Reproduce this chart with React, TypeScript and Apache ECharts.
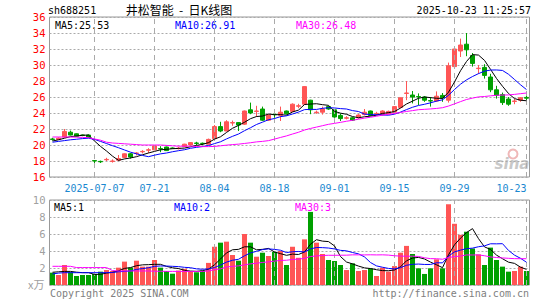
import React, { useEffect, useRef } from 'react';
import * as echarts from 'echarts';

const dates = [
  '2025-06-26','2025-06-27','2025-06-30',
  '2025-07-01','2025-07-02','2025-07-03','2025-07-04','2025-07-07','2025-07-08','2025-07-09','2025-07-10','2025-07-11',
  '2025-07-14','2025-07-15','2025-07-16','2025-07-17','2025-07-18','2025-07-21','2025-07-22','2025-07-23','2025-07-24','2025-07-25',
  '2025-07-28','2025-07-29','2025-07-30','2025-07-31',
  '2025-08-01','2025-08-04','2025-08-05','2025-08-06','2025-08-07','2025-08-08','2025-08-11','2025-08-12','2025-08-13','2025-08-14',
  '2025-08-15','2025-08-18','2025-08-19','2025-08-20','2025-08-21','2025-08-22','2025-08-25','2025-08-26','2025-08-27','2025-08-28','2025-08-29',
  '2025-09-01','2025-09-02','2025-09-03','2025-09-04','2025-09-05','2025-09-08','2025-09-09','2025-09-10','2025-09-11','2025-09-12',
  '2025-09-15','2025-09-16','2025-09-17','2025-09-18','2025-09-19','2025-09-22','2025-09-23','2025-09-24','2025-09-25','2025-09-26',
  '2025-09-29','2025-09-30',
  '2025-10-09','2025-10-10','2025-10-13','2025-10-14','2025-10-15','2025-10-16','2025-10-17','2025-10-20','2025-10-21','2025-10-22','2025-10-23'
];

const openPrices = [
  20.75, 20.7, 21.0, 21.6, 21.4, 21.25, 21.25, 18.05, 17.95, 18.15,
  17.95, 18.1, 18.45, 18.9, 18.95, 19.15, 19.35, 19.4, 19.55, 19.75,
  19.62, 19.55, 19.8, 20.0, 20.25, 20.22, 20.1, 20.8, 22.3, 21.75,
  22.75, 22.8, 22.6, 24.4, 24.2, 24.5, 23.1, 23.85, 23.7, 24.25,
  24.2, 24.85, 25.1, 25.6, 24.05, 24.1, 24.8, 24.4, 23.7, 23.35,
  23.4, 23.4, 23.8, 24.25, 23.9, 23.8, 23.9, 24.1, 24.7, 26.45,
  26.25, 26.05, 26.0, 25.55, 25.5, 26.2, 25.6, 29.8, 31.75, 32.6,
  31.2, 29.55, 29.7, 28.5, 26.9, 26.3, 25.75, 25.45, 25.6, 25.95
];
const closePrices = [
  20.7, 20.85, 21.7, 21.25, 21.1, 21.2, 20.95, 18.0, 17.9, 18.2,
  18.0, 18.3, 18.9, 18.5, 19.0, 19.2, 19.4, 19.9, 19.5, 19.3,
  19.58, 19.6, 20.1, 20.3, 20.2, 20.18, 20.7, 22.3, 21.75, 22.9,
  22.8, 22.5, 24.25, 24.0, 24.25, 23.1, 23.75, 23.8, 24.1, 23.9,
  25.1, 24.9, 27.3, 24.4, 24.1, 24.5, 24.5, 23.5, 23.3, 23.4,
  23.1, 23.75, 24.1, 23.7, 23.95, 24.25, 24.2, 24.8, 25.9, 26.5,
  26.0, 26.0, 25.6, 25.5, 26.1, 25.9, 29.9, 32.0, 32.5, 31.9,
  30.2, 29.6, 28.7, 26.9, 26.2, 25.3, 25.1, 25.5, 25.9, 25.85
];
const lowPrices = [
  20.55, 20.65, 20.9, 21.2, 21.05, 21.1, 20.9, 17.6, 17.75, 18.0,
  17.8, 18.0, 18.35, 18.3, 18.7, 18.95, 19.0, 19.35, 19.1, 19.25,
  19.5, 19.45, 19.75, 19.95, 19.95, 20.0, 20.05, 20.75, 21.6, 21.7,
  22.4, 21.75, 22.5, 23.85, 23.5, 23.0, 23.0, 23.4, 23.0, 23.8,
  24.1, 24.6, 25.0, 23.85, 23.9, 23.8, 24.4, 23.4, 23.0, 23.2,
  23.0, 23.3, 23.7, 23.6, 23.75, 23.7, 23.85, 24.0, 24.6, 25.6,
  25.2, 25.0, 25.4, 24.8, 25.4, 25.4, 25.3, 29.5, 31.0, 31.1,
  29.8, 28.9, 28.3, 26.6, 25.8, 25.0, 24.9, 25.1, 25.4, 25.4
];
const highPrices = [
  20.9, 20.95, 22.0, 21.8, 21.45, 21.3, 21.3, 18.1, 18.05, 18.4,
  18.2, 18.75, 18.95, 19.0, 19.1, 19.35, 19.6, 20.0, 19.85, 19.8,
  19.7, 19.75, 20.15, 20.35, 20.4, 20.3, 20.8, 22.5, 22.9, 23.1,
  23.05, 22.85, 24.3, 25.3, 24.9, 24.8, 23.85, 24.0, 24.8, 24.3,
  25.2, 25.15, 27.35, 25.65, 24.3, 24.8, 24.9, 24.45, 23.95, 23.6,
  23.5, 23.85, 24.5, 24.3, 24.15, 24.35, 24.3, 24.85, 25.95, 28.0,
  26.75, 26.45, 26.1, 26.0, 26.7, 26.5, 30.3, 32.2, 33.3, 34.0,
  31.5, 30.0, 30.1, 28.9, 27.4, 26.55, 26.0, 25.75, 26.0, 26.3
];
// volume, in 10k lots
const volumes = [
  1.45, 1.18, 2.35, 1.5, 1.06, 1.18, 1.18, 1.3, 1.57, 1.76,
  1.65, 2.04, 2.75, 2.04, 2.86, 2.16, 2.16, 2.94, 2.04, 1.65,
  1.33, 1.7, 1.9, 1.6, 1.5, 1.7, 2.6, 4.5, 4.98, 5.1,
  3.53, 2.86, 6.0, 4.98, 3.33, 3.8, 3.41, 3.9, 4.0, 2.35,
  4.5, 3.2, 5.37, 8.6, 4.98, 3.65, 2.94, 2.82, 2.35, 1.76,
  2.55, 1.65, 1.76, 1.96, 1.06, 2.04, 1.57, 2.23, 3.8, 4.6,
  3.65, 1.96, 1.3, 1.96, 3.02, 1.96, 9.5, 7.2, 5.9, 6.27,
  4.3, 3.6, 2.35, 4.4, 2.94, 2.16, 1.57, 1.65, 2.16, 1.65
];

// moving-average values before a full window exists
const ma5Head = [20.5, 20.65, 20.85, 21.05];
const ma10Head = [20.35, 20.45, 20.55, 20.65, 20.72, 20.8, 20.85, 20.7, 20.45];
const ma30Head = [21.0, 21.0, 21.0, 21.0, 20.98, 20.95, 20.92, 20.75, 20.6, 20.35,
  20.25, 20.2, 20.15, 20.1, 20.05, 20.0, 20.0, 20.0, 20.0, 19.95,
  19.9, 19.85, 19.85, 19.85, 19.82, 19.8, 19.8, 19.82, 19.9];
const vma5Head = [1.5, 1.55, 1.6, 1.6];
const vma10Head = [1.3, 1.4, 1.45, 1.45, 1.45, 1.45, 1.45, 1.45, 1.45];
const vma30Head = [2.2, 2.2, 2.2, 2.2, 2.05, 2.05, 2.05, 2.05, 2.05, 2.05,
  1.7, 1.65, 1.65, 1.65, 1.65, 1.65, 1.65, 1.62, 1.62, 1.6,
  1.6, 1.6, 1.6, 1.6, 1.6, 1.6, 1.65, 1.8, 1.9];

const priceTicks = { min: 16, max: 36, interval: 2 };
const volTicks = { min: 0, max: 10, interval: 2 };
const labelIndices = [7, 17, 27, 37, 47, 57, 67, 79];

const legendPrice = ['MA5:25.53', 'MA10:26.91', 'MA30:26.48'];
const legendVol = ['MA5:1', 'MA10:2', 'MA30:3'];

const UP = '#ff5555';
const DOWN = '#00a000';
const MONO = 'DejaVu Sans Mono, Liberation Mono, monospace';

function movingAvg(vals: number[], n: number, head: number[]) {
  return vals.map((_, i) => {
    if (i < n - 1) return head[i];
    let s = 0;
    for (let k = i - n + 1; k <= i; k++) s += vals[k];
    return +(s / n).toFixed(3);
  });
}

export default function App() {
  const ref = useRef<HTMLDivElement>(null);
  useEffect(() => {
    if (!ref.current) return;
    const chart = echarts.init(ref.current, undefined, { renderer: 'svg' });
    const candles = dates.map((_, i) => [openPrices[i], closePrices[i], lowPrices[i], highPrices[i]]);
    const volData = volumes.map((v, i) => ({
      value: v,
      itemStyle: { color: closePrices[i] >= openPrices[i] ? UP : DOWN },
    }));
    const vLine = {
      symbol: 'none',
      silent: true,
      label: { show: false },
      lineStyle: { color: '#aaa', type: [5, 4], width: 1 },
      data: labelIndices.map((i) => ({ xAxis: dates[i] })),
    };
    const line = (name: string, data: number[], color: string, xi: number, yi: number) => ({
      name, type: 'line', data, xAxisIndex: xi, yAxisIndex: yi, symbol: 'none', smooth: false,
      lineStyle: { color, width: 1 }, itemStyle: { color }, z: 5,
    });
    const txt = (text: string, x: number, y: number, fill: string, extra: any = {}) => ({
      type: 'text', x, y, silent: true,
      style: { text, fill, fontFamily: MONO, fontSize: 10, verticalAlign: 'middle', align: 'left', ...extra },
    });
    chart.setOption({
      animation: false,
      backgroundColor: '#fff',
      grid: [
        { left: 49.5, top: 17, width: 480, height: 160, show: true, borderColor: '#999', borderWidth: 1 },
        { left: 49.5, top: 200, width: 480, height: 85, show: true, borderColor: '#999', borderWidth: 1 },
      ],
      xAxis: [
        {
          type: 'category', data: dates, gridIndex: 0, boundaryGap: true,
          axisLine: { show: false }, axisTick: { show: false }, splitLine: { show: false },
          axisLabel: {
            show: true, margin: 6, color: '#1a88d0', fontFamily: MONO, fontSize: 10,
            interval: (idx: number) => labelIndices.includes(idx),
            formatter: (v: string, idx: number) => (idx === labelIndices[0] ? v : v.slice(5)),
            alignMaxLabel: 'right',
          },
        },
        {
          type: 'category', data: dates, gridIndex: 1, boundaryGap: true,
          axisLine: { show: false }, axisTick: { show: false }, splitLine: { show: false },
          axisLabel: { show: false },
        },
      ],
      yAxis: [
        {
          type: 'value', gridIndex: 0, ...priceTicks,
          axisLine: { show: false }, axisTick: { show: false },
          axisLabel: { color: '#ff0000', fontFamily: MONO, fontSize: 10.5, margin: 4 },
          splitLine: { show: true, lineStyle: { color: '#aaa', type: [2, 2], width: 1 } },
        },
        {
          type: 'value', gridIndex: 1, ...volTicks,
          axisLine: { show: false }, axisTick: { show: false },
          axisLabel: {
            color: '#a0a0a0', fontFamily: MONO, fontSize: 10.5, margin: 4,
            formatter: (v: number) => (v === 0 ? '' : String(v)),
          },
          splitLine: { show: true, lineStyle: { color: '#aaa', type: [2, 2], width: 1 } },
        },
      ],
      series: [
        {
          name: 'K', type: 'candlestick', data: candles, xAxisIndex: 0, yAxisIndex: 0,
          barWidth: 5,
          itemStyle: { color: UP, color0: DOWN, borderColor: UP, borderColor0: DOWN, borderWidth: 1 },
          markLine: vLine,
          z: 3,
        },
        line('MA5', movingAvg(closePrices, 5, ma5Head), '#000000', 0, 0),
        line('MA10', movingAvg(closePrices, 10, ma10Head), '#0000ff', 0, 0),
        line('MA30', movingAvg(closePrices, 30, ma30Head), '#ff00ff', 0, 0),
        {
          name: 'VOL', type: 'bar', data: volData, xAxisIndex: 1, yAxisIndex: 1,
          barWidth: 5, markLine: vLine, z: 3,
        },
        line('VMA5', movingAvg(volumes, 5, vma5Head), '#000000', 1, 1),
        line('VMA10', movingAvg(volumes, 10, vma10Head), '#0000ff', 1, 1),
        line('VMA30', movingAvg(volumes, 30, vma30Head), '#ff00ff', 1, 1),
      ],
      graphic: [
        txt('sh688251', 48, 10, '#000'),
        {
          type: 'text', x: 179, y: 9.5, silent: true,
          style: {
            text: '井松智能  -  日K线图', fill: '#000', fontFamily: 'Noto Sans CJK SC, sans-serif',
            fontSize: 12, lineHeight: 13, align: 'center', verticalAlign: 'middle',
          },
        },
        txt('2025-10-23 11:25:57', 531, 10, '#000', { align: 'right' }),
        txt(legendPrice[0], 55, 25, '#000'),
        txt(legendPrice[1], 175, 25, '#0000ff'),
        txt(legendPrice[2], 296, 25, '#ff00ff'),
        txt(legendVol[0], 54, 207, '#000'),
        txt(legendVol[1], 174, 207, '#0000ff'),
        txt(legendVol[2], 295, 207, '#ff00ff'),
        {
          type: 'text', x: 28, y: 284, silent: true,
          style: { text: 'x万', fill: '#a0a0a0', fontFamily: 'Noto Sans CJK SC, sans-serif', fontSize: 11, verticalAlign: 'middle' },
        },
        txt('Copyright 2025 SINA.COM', 50, 293, '#808080'),
        txt('http://finance.sina.com.cn', 529, 293, '#808080', { align: 'right' }),
        {
          type: 'circle', silent: true, shape: { cx: 513, cy: 154, r: 4.5 },
          style: { fill: 'none', stroke: '#f0b8b8', lineWidth: 2 },
        },
        {
          type: 'text', x: 512, y: 164, silent: true,
          style: {
            text: 'sina', fill: '#c8c8c8', fontFamily: 'DejaVu Sans, sans-serif', fontSize: 15,
            fontStyle: 'italic', fontWeight: 'bold', align: 'center', verticalAlign: 'middle',
          },
        },
      ],
    });
    return () => chart.dispose();
  }, []);
  return <div ref={ref} style={{ position: 'fixed', left: 0, top: 0, width: 545, height: 300 }} />;
}
